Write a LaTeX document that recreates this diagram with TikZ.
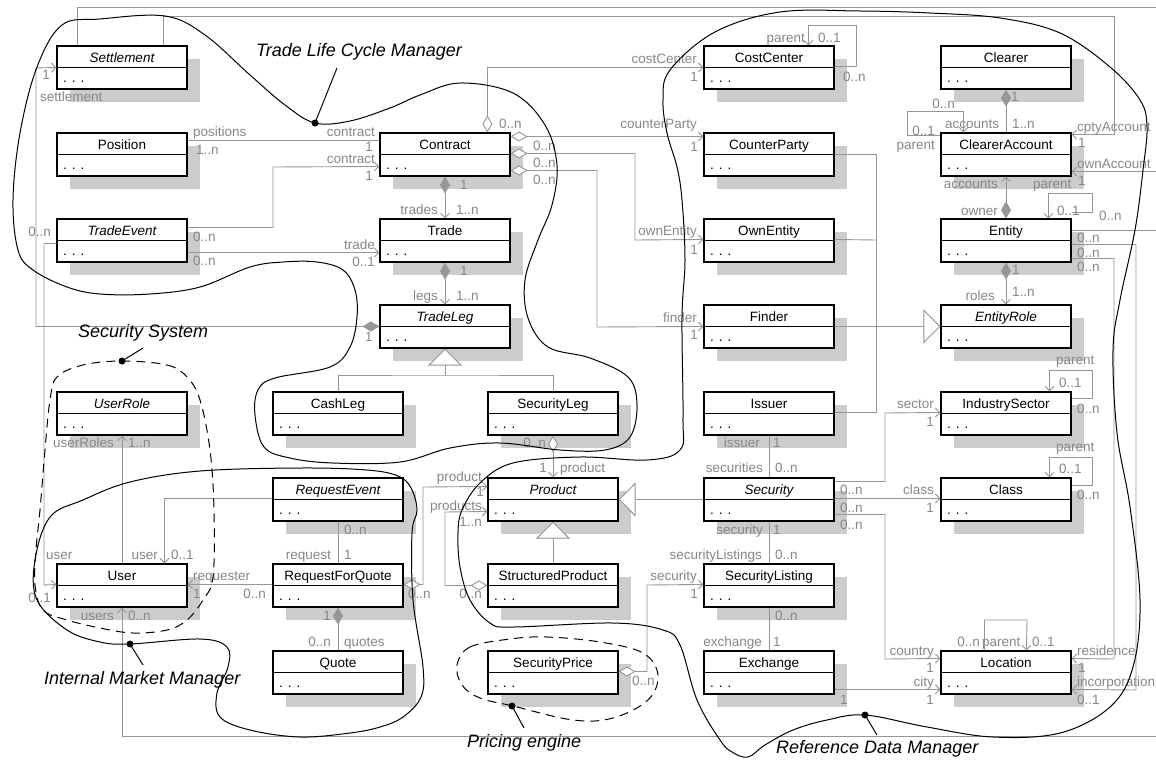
\documentclass[tikz,border=0pt]{standalone}
\usepackage{fontspec}
\setmainfont{Liberation Sans}
\usetikzlibrary{arrows.meta,calc}
\definecolor{lnc}{RGB}{150,150,150}
\definecolor{lbc}{RGB}{135,135,135}
\definecolor{shc}{RGB}{204,204,204}
\newcounter{lc}
\tikzset{
  classbox/.style={draw=black,fill=white,line width=1.1pt,minimum width=130pt,minimum height=43pt,inner sep=0pt},
  upr/.style={font=\fontsize{13.5}{16}\selectfont},
  itl/.style={font=\fontsize{13.5}{16}\selectfont\itshape},
  cdots/.style={font=\fontsize{13.5}{16}\selectfont,anchor=base west,inner sep=0pt},
  lab/.style={text=lbc,font=\fontsize{13.5}{16}\selectfont,inner sep=0pt,text height=9pt,text depth=0pt},
  conn/.style={draw=lnc,line width=0.9pt},
  barb/.tip={Straight Barb[length=4.5pt,width=9pt,line width=0.9pt]},
  odia/.tip={Diamond[length=17pt,width=10pt,fill=white,line width=0.9pt]},
  fdia/.tip={Diamond[length=17pt,width=10pt,line width=0.9pt]},
  gtri/.tip={Triangle[length=17pt,width=34pt,fill=white,line width=0.9pt]},
  nav/.style={conn,-barb},
  pkg/.style={draw=black,line width=1pt},
  pkgd/.style={pkg,dash pattern=on 9pt off 6pt},
  ptitle/.style={font=\fontsize{18}{22}\selectfont\itshape,anchor=west,inner sep=0pt},
}
\newcommand\umlc[5]{%
  \fill[shc] (#2+13,#3+13) rectangle (#2+143,#3+56);
  \node[classbox] (#1) at (#2+65,#3+21.5) {};
  \draw[line width=1.1pt] ($(#1.north west)+(0,22)$) -- ($(#1.north east)+(0,22)$);
  \node[#5,anchor=base,inner sep=0pt] (#1-t) at (#2+65,#3+16) {#4};
  \node[cdots] (#1-d) at (#2+6,#3+36) {. . .};
}
\newcommand\labW[3]{\stepcounter{lc}\node[lab,anchor=west] (lab\arabic{lc}) at (#1,#2) {#3};}
\newcommand\labE[3]{\stepcounter{lc}\node[lab,anchor=east] (lab\arabic{lc}) at (#1,#2) {#3};}
\begin{document}
\begin{tikzpicture}[x=1pt,y=-1pt]
\useasboundingbox (0,0) rectangle (1156,761);
\fill[white] (0,0) rectangle (1156,761);
\clip (0,0) rectangle (1156,761);
% ---------------- classes
\umlc{Settlement}{57}{46}{Settlement}{itl}
\umlc{Position}{57}{133}{Position}{upr}
\umlc{TradeEvent}{57}{219}{TradeEvent}{itl}
\umlc{UserRole}{57}{392}{UserRole}{itl}
\umlc{User}{57}{564}{User}{upr}
\umlc{CashLeg}{273}{392}{CashLeg}{upr}
\umlc{RequestEvent}{273}{478}{RequestEvent}{itl}
\umlc{RFQ}{273}{564}{RequestForQuote}{upr}
\umlc{Quote}{273}{651}{Quote}{upr}
\umlc{Contract}{380}{133}{Contract}{upr}
\umlc{Trade}{380}{219}{Trade}{upr}
\umlc{TradeLeg}{380}{305}{TradeLeg}{itl}
\umlc{SecurityLeg}{488}{392}{SecurityLeg}{upr}
\umlc{Product}{488}{478}{Product}{itl}
\umlc{StructuredProduct}{488}{564}{StructuredProduct}{upr}
\umlc{SecurityPrice}{488}{651}{SecurityPrice}{upr}
\umlc{CostCenter}{704}{46}{CostCenter}{upr}
\umlc{CounterParty}{704}{133}{CounterParty}{upr}
\umlc{OwnEntity}{704}{219}{OwnEntity}{upr}
\umlc{Finder}{704}{305}{Finder}{upr}
\umlc{Issuer}{704}{392}{Issuer}{upr}
\umlc{Security}{704}{478}{Security}{itl}
\umlc{SecurityListing}{704}{564}{SecurityListing}{upr}
\umlc{Exchange}{704}{651}{Exchange}{upr}
\umlc{Clearer}{941}{46}{Clearer}{upr}
\umlc{ClearerAccount}{941}{133}{ClearerAccount}{upr}
\umlc{Entity}{941}{219}{Entity}{upr}
\umlc{EntityRole}{941}{305}{EntityRole}{itl}
\umlc{IndustrySector}{941}{392}{IndustrySector}{upr}
\umlc{Class}{941}{478}{Class}{upr}
\umlc{Location}{941}{651}{Location}{upr}
% ---------------- connectors
\draw[nav] ($(Settlement.north west)+(21,0)$) |- (1162,7) |- ($(ClearerAccount.north east)+(0,39)$);
\draw[nav] ($(Settlement.north west)+(107,0)$) |- (1114,16) |- ($(ClearerAccount.north east)+(0,2)$);
\draw[conn,fdia-barb] ($(TradeLeg.north west)+(0,22)$) -| (36,68) -- ($(Settlement.north west)+(0,22)$);
\draw[conn] ($(Position.north east)+(0,8)$) -- ($(Contract.north west)+(0,8)$);
\draw[nav] ($(TradeEvent.north east)+(0,9)$) -| (273,167) -- ($(Contract.north west)+(0,34)$);
\draw[nav] ($(TradeEvent.north east)+(0,34)$) -- ($(Trade.north west)+(0,34)$);
\draw[nav] ($(TradeEvent.north west)+(0,25)$) -| (44,585) -- ($(User.north west)+(0,21)$);
\draw[conn,odia-barb] ($(Contract.north west)+(108,0)$) |- ($(CostCenter.north west)+(0,22)$);
\draw[conn,odia-barb] ($(Contract.north east)+(0,4)$) -- ($(CounterParty.north west)+(0,4)$);
\draw[conn,odia-barb] ($(Contract.north east)+(0,21)$) -| (635,240) -- ($(OwnEntity.north west)+(0,21)$);
\draw[conn,odia-barb] ($(Contract.north east)+(0,38)$) -| (597,327) -- ($(Finder.north west)+(0,22)$);
\draw[conn,fdia-barb] (Contract.south) -- (Trade.north);
\draw[conn,fdia-barb] (Trade.south) -- (TradeLeg.north);
\coordinate (tlbus) at (445,375);
\draw[conn,-gtri] (tlbus) -- (TradeLeg.south);
\draw[conn] (CashLeg.north) |- (tlbus) -| (SecurityLeg.north);
\draw[conn,odia-barb] (SecurityLeg.south) -- (Product.north);
\draw[conn,-gtri] (StructuredProduct.north) -- (Product.south);
\draw[conn,-gtri] (Security.west) -- (Product.east);
\draw[conn,odia-barb] ($(RFQ.north east)+(0,21)$) -| (423,487) -- ($(Product.north west)+(0,9)$);
\draw[conn,odia-barb] ($(StructuredProduct.north west)+(0,22)$) -| (445,512) -- ($(Product.north west)+(0,34)$);
\draw[conn,odia-barb] ($(SecurityPrice.north east)+(0,21)$) -| (647,585) -- ($(SecurityListing.north west)+(0,21)$);
\draw[conn] (Issuer.south) -- (Security.north);
\draw[conn] (Security.south) -- (SecurityListing.north);
\draw[conn] (SecurityListing.south) -- (Exchange.north);
\draw[nav] ($(Security.north east)+(0,4)$) -| (885,413) -- ($(IndustrySector.north west)+(0,21)$);
\draw[nav] ($(Security.north east)+(0,21)$) -- ($(Class.north west)+(0,21)$);
\draw[nav] ($(Security.north east)+(0,37)$) -| (885,659) -- ($(Location.north west)+(0,8)$);
\draw[nav] ($(Exchange.north east)+(0,39)$) -- ($(Location.north west)+(0,39)$);
\draw[nav] ($(Location.north west)+(44,0)$) |- (1027,620) -- ($(Location.north west)+(86,0)$);
\draw[nav] ($(Entity.north east)+(0,40)$) -| (1114,659) -- ($(Location.north east)+(0,8)$);
\draw[nav] ($(Entity.north east)+(0,26)$) -| (1136,690) -- ($(Location.north east)+(0,39)$);
\draw[nav] ($(Entity.north east)+(0,12)$) -| (1170,736) -| (User.south);
\draw[nav] ($(Entity.north east)+(0,-6)$) -| (1092,193) -| ($(Entity.north west)+(108,0)$);
\draw[conn,fdia-] (Clearer.south) -- (ClearerAccount.north);
\draw[nav] ($(ClearerAccount.north west)+(0,3)$) -| (907,111) -| ($(ClearerAccount.north west)+(23,0)$);
\draw[conn,fdia-barb] (Entity.north) -- (ClearerAccount.south);
\draw[conn,fdia-barb] (Entity.south) -- (EntityRole.north);
\draw[conn,-gtri] ($(Finder.north east)+(0,22)$) -- ($(EntityRole.north west)+(0,22)$);
\draw[conn] ($(CounterParty.north east)+(0,22)$) -| (876,327);
\draw[conn] ($(Issuer.north east)+(0,21)$) -| (876,327);
\draw[conn] ($(OwnEntity.north east)+(0,21)$) -- (876,240);
\draw[nav] ($(CostCenter.north east)+(0,21)$) -| (856,25) -| ($(CostCenter.north west)+(105,0)$);
\draw[nav] ($(IndustrySector.north east)+(0,7)$) -| (1092,370) -| ($(IndustrySector.north west)+(109,0)$);
\draw[nav] ($(Class.north east)+(0,8)$) -| (1092,457) -| ($(Class.north west)+(109,0)$);
\draw[conn] (RequestEvent.south) -- (RFQ.north);
\draw[nav] ($(RequestEvent.north west)+(0,21)$) -| ($(User.north west)+(108,0)$);
\draw[nav] (User.north) -- (UserRole.south);
\draw[nav] ($(RFQ.north west)+(0,21)$) -- ($(User.north east)+(0,21)$);
\draw[conn,fdia-] (RFQ.south) -- (Quote.north);
% ---------------- labels
\labW{193}{132}{positions}\labW{196}{150}{1..n}
\labE{375}{132}{contract}\labE{373}{147}{1}
\labE{375}{159}{contract}\labE{373}{176}{1}
\labW{193}{237}{0..n}\labW{193}{261}{0..n}
\labE{375}{245}{trade}\labE{375}{262}{0..1}
\labE{51}{232}{0..n}
\labW{46}{555}{user}\labE{51}{598}{0..1}
\labE{50}{75}{1}\labW{40}{97}{settlement}
\labW{365}{337}{1}
\labW{499}{124}{0..n}
\labE{697}{59}{costCenter}\labE{698}{77}{1}
\labE{697}{124}{counterParty}\labE{698}{147}{1}
\labW{533}{146}{0..n}\labW{533}{163}{0..n}\labW{533}{180}{0..n}
\labE{697}{231}{ownEntity}\labE{698}{250}{1}
\labE{697}{318}{finder}\labE{698}{335}{1}
\labW{460}{185}{1}\labE{438}{210}{trades}\labW{456}{210}{1..n}
\labW{460}{271}{1}\labE{438}{296}{legs}\labW{456}{296}{1..n}
\labE{546}{443}{0..n}\labE{547}{468}{1}\labW{560}{468}{product}
\labE{482}{477}{product}\labE{484}{492}{1}
\labE{482}{506}{products}\labE{482}{522}{1..n}
\labW{408}{594}{0..n}\labE{482}{594}{0..n}
\labW{632}{681}{0..n}
\labE{697}{576}{security}\labE{698}{594}{1}
\labE{760}{443}{issuer}\labW{773}{443}{1}
\labE{763}{468}{securities}\labW{775}{468}{0..n}
\labE{763}{530}{security}\labW{773}{530}{1}
\labE{762}{555}{securityListings}\labW{775}{555}{0..n}
\labW{775}{616}{0..n}
\labE{762}{642}{exchange}\labW{773}{642}{1}
\labW{840}{490}{0..n}\labE{934}{404}{sector}\labE{934}{422}{1}
\labW{840}{508}{0..n}\labE{934}{490}{class}\labE{934}{508}{1}
\labW{840}{525}{0..n}\labE{934}{651}{country}\labE{934}{668}{1}
\labW{840}{700}{1}\labE{934}{682}{city}\labE{934}{700}{1}
\labE{980}{642}{0..n}\labW{982}{642}{parent}\labW{1032}{642}{0..1}
\labW{1077}{651}{residence}\labW{1078}{668}{1}
\labW{1077}{682}{incorporation}\labW{1077}{700}{0..1}
\labW{1077}{238}{0..n}\labW{1077}{253}{0..n}\labW{1077}{267}{0..n}
\labE{114}{616}{users}\labW{128}{616}{0..n}
\labW{1033}{184}{parent}\labW{1057}{211}{0..1}\labW{1099}{216}{0..n}
\labW{1011}{97}{1}\labW{1012}{124}{1..n}
\labE{955}{104}{0..n}\labE{935}{131}{0..1}\labE{935}{145}{parent}
\labW{945}{124}{accounts}
\labW{1077}{127}{cptyAccount}\labW{1078}{143}{1}
\labW{1077}{164}{ownAccount}\labW{1078}{181}{1}
\labE{998}{184}{accounts}\labE{998}{211}{owner}
\labW{1012}{270}{1}\labE{995}{296}{roles}\labW{1012}{292}{1..n}
\labE{805}{38}{parent}\labW{818}{38}{0..1}\labW{843}{77}{0..n}
\labW{1056}{360}{parent}\labW{1059}{383}{0..1}\labW{1077}{409}{0..n}
\labW{1056}{447}{parent}\labW{1059}{469}{0..1}\labW{1077}{495}{0..n}
\labW{344}{530}{0..n}\labE{331}{555}{request}\labW{344}{555}{1}
\labE{158}{555}{user}\labW{171}{555}{0..1}
\labE{114}{443}{userRoles}\labW{128}{443}{1..n}
\labW{193}{576}{requester}\labW{193}{594}{1}\labE{266}{594}{0..n}
\labE{331}{616}{1}\labE{331}{642}{0..n}\labW{344}{642}{quotes}
% ---------------- packages
\draw[pkg] plot[smooth cycle,tension=0.6] coordinates {(62,25) (100,19) (165,16) (205,35) (250,75) (285,105) (315,123) (350,121) (390,108) (420,95) (460,83) (513,93) (545,125) (557,165) (552,205) (538,240) (525,280) (528,318) (548,347) (590,358) (628,377) (637,405) (630,437) (605,450) (560,450) (500,443) (450,448) (400,462) (333,463) (290,458) (264,447) (255,415) (258,390) (275,378) (330,367) (350,347) (357,317) (355,290) (343,270) (317,262) (283,262) (250,267) (200,287) (150,294) (100,294) (67,287) (33,270) (18,250) (13,200) (20,133) (37,67)};
\draw[pkg] plot[smooth cycle,tension=0.6] coordinates {(130,644) (200,639) (227,647) (228,667) (217,693) (220,717) (250,730) (300,737) (350,733) (380,727) (403,717) (421,697) (423,667) (413,600) (412,533) (417,510) (411,488) (398,476) (367,470) (300,468) (200,471) (130,482) (83,500) (50,517) (35,560) (37,600) (67,630) (100,642)};
\draw[pkgd] plot[smooth cycle,tension=0.6] coordinates {(122,361) (167,365) (187,377) (200,400) (210,450) (214,510) (213,577) (203,600) (187,620) (167,630) (133,633) (100,628) (67,620) (43,610) (35,585) (36,550) (40,510) (45,450) (50,400) (57,377) (83,365)};
\draw[pkgd] plot[smooth cycle,tension=0.6] coordinates {(457,665) (470,647) (510,639) (547,637) (600,642) (643,653) (658,675) (648,700) (613,718) (573,720) (513,706) (480,698) (462,685)};
\draw[pkg] plot[smooth cycle,tension=0.6] coordinates {(715,32) (780,12) (860,11) (930,13) (1000,18) (1060,33) (1110,67) (1140,100) (1147,127) (1143,170) (1135,230) (1120,300) (1113,350) (1117,433) (1130,507) (1140,600) (1133,667) (1110,707) (1060,733) (993,737) (927,727) (865,715) (827,720) (793,730) (765,745) (748,757) (732,752) (720,740) (697,700) (680,645) (663,630) (613,623) (513,627) (490,623) (470,600) (460,567) (458,533) (462,510) (480,483) (513,463) (580,457) (647,460) (680,450) (683,417) (682,317) (685,260) (682,200) (677,167) (667,133) (663,100) (670,70)};
% titles and pointers
\node[ptitle] (tlcm) at (256,52) {Trade Life Cycle Manager};
\node[ptitle] (secsys) at (78,333) {Security System};
\node[ptitle] (imm) at (44,680) {Internal Market Manager};
\node[ptitle] (pe) at (467,743) {Pricing engine};
\node[ptitle] (rdm) at (776,749) {Reference Data Manager};
\coordinate (d1) at (315,123); \coordinate (d2) at (122,361); \coordinate (d3) at (130,644);
\coordinate (d4) at (512,706); \coordinate (d5) at (865,715);
\draw[line width=1pt] (d1) -- (337,68);
\draw[line width=1pt] (d2) -- (143,348);
\draw[line width=1pt] (d3) -- (143,665);
\draw[line width=1pt] (d4) -- (524,728);
\draw[line width=1pt] (d5) -- (877,735);
\foreach \d in {d1,d2,d3,d4,d5} \fill (\d) circle[radius=3.5pt];
\end{tikzpicture}
\end{document}
